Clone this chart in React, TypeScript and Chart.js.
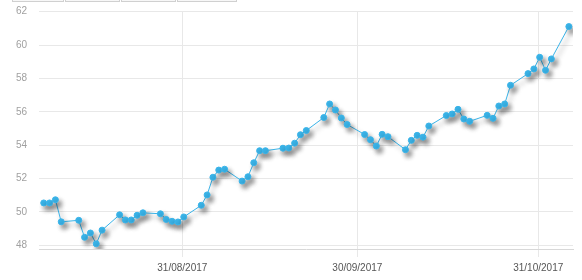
import React, { useEffect, useRef } from "react";
import { Chart, registerables } from "chart.js";

Chart.register(...registerables);

// Trading days (Sunday–Thursday market)
const dates: string[] = [
  "2017-08-07", "2017-08-08", "2017-08-09", "2017-08-10",
  "2017-08-13", "2017-08-14", "2017-08-15", "2017-08-16", "2017-08-17",
  "2017-08-20", "2017-08-21", "2017-08-22", "2017-08-23", "2017-08-24",
  "2017-08-27", "2017-08-28", "2017-08-29", "2017-08-30", "2017-08-31",
  "2017-09-03", "2017-09-04", "2017-09-05", "2017-09-06", "2017-09-07",
  "2017-09-10", "2017-09-11", "2017-09-12", "2017-09-13", "2017-09-14",
  "2017-09-17", "2017-09-18", "2017-09-19", "2017-09-20", "2017-09-21",
  "2017-09-24", "2017-09-25", "2017-09-26", "2017-09-27", "2017-09-28",
  "2017-10-01", "2017-10-02", "2017-10-03", "2017-10-04", "2017-10-05",
  "2017-10-08", "2017-10-09", "2017-10-10", "2017-10-11", "2017-10-12",
  "2017-10-15", "2017-10-16", "2017-10-17", "2017-10-18", "2017-10-19",
  "2017-10-22", "2017-10-23", "2017-10-24", "2017-10-25", "2017-10-26",
  "2017-10-29", "2017-10-30", "2017-10-31", "2017-11-01", "2017-11-02",
  "2017-11-05",
];

const prices: number[] = [
  50.54, 50.54, 50.73, 49.41,
  49.5, 48.48, 48.74, 48.09, 48.91,
  49.83, 49.52, 49.52, 49.8, 49.95,
  49.89, 49.55, 49.44, 49.4, 49.7,
  50.4, 51.02, 52.08, 52.51, 52.56,
  51.85, 52.11, 52.95, 53.67, 53.67,
  53.82, 53.83, 54.12, 54.63, 54.88,
  55.66, 56.47, 56.11, 55.63, 55.24,
  54.64, 54.33, 53.95, 54.65, 54.51,
  53.73, 54.29, 54.59, 54.48, 55.15,
  55.78, 55.87, 56.15, 55.57, 55.43,
  55.79, 55.61, 56.35, 56.47, 57.59,
  58.29, 58.57, 59.27, 58.49, 59.17,
  61.11,
];

const tickDates: string[] = ["2017-08-31", "2017-09-30", "2017-10-31"];
const tickLabels: string[] = ["31/08/2017", "30/09/2017", "31/10/2017"];
const yTickValues: number[] = [48, 50, 52, 54, 56, 58, 60, 62];

const DAY_MS = 86400000;
const ORIGIN = Date.UTC(2017, 7, 1);
const toDay = (s: string) => (Date.parse(s + "T00:00:00Z") - ORIGIN) / DAY_MS;
const POINT_OFFSET = 0.25; // points are stamped a few hours after midnight

const buttonBoxes = [
  { left: 12, width: 52 },
  { left: 65, width: 55 },
  { left: 121, width: 55 },
  { left: 177, width: 60 },
];

export default function App() {
  const ref = useRef<HTMLCanvasElement | null>(null);

  useEffect(() => {
    if (!ref.current) return;
    const blue = "#3ab4e9";
    const points = dates.map((d, i) => ({ x: toDay(d) + POINT_OFFSET, y: prices[i] }));
    const tickMap: Record<number, string> = {};
    tickDates.forEach((d, i) => (tickMap[toDay(d)] = tickLabels[i]));

    const shadowPlugin = {
      id: "pointShadow",
      beforeDatasetsDraw(chart: any) {
        const c = chart.ctx;
        c.save();
        c.shadowColor = "rgba(0,0,0,0.45)";
        c.shadowBlur = 5;
        c.shadowOffsetX = 3;
        c.shadowOffsetY = 4;
      },
      afterDatasetsDraw(chart: any) {
        chart.ctx.restore();
      },
    };

    const chart = new Chart(ref.current, {
      type: "line",
      data: {
        datasets: [
          {
            data: points,
            borderColor: blue,
            backgroundColor: blue,
            borderWidth: 1,
            pointRadius: 3,
            pointBorderWidth: 1,
            pointBackgroundColor: blue,
            pointBorderColor: blue,
            tension: 0,
            fill: false,
          },
        ],
      },
      options: {
        responsive: false,
        animation: false,
        layout: { padding: { left: 0, right: 9, top: 11.7, bottom: 0 } },
        plugins: { legend: { display: false }, tooltip: { enabled: false } },
        scales: {
          x: {
            type: "linear",
            min: 5.44,
            max: 96.96,
            afterBuildTicks: (scale: any) => {
              scale.ticks = tickDates.map((d) => ({ value: toDay(d) }));
            },
            afterFit: (scale: any) => {
              scale.height = 31;
            },
            grid: {
              color: "#e8e8e8",
              drawTicks: true,
              tickLength: 8,
              tickColor: "#e8e8e8",
            },
            border: { display: true, color: "#d8d8d8" },
            ticks: {
              padding: 5,
              maxRotation: 0,
              autoSkip: false,
              color: "#555555",
              font: { size: 10, family: "'Liberation Sans', Arial, sans-serif" },
              callback: (v: any) => tickMap[v as number] ?? "",
            },
          },
          y: {
            type: "linear",
            min: 47.78,
            max: 62,
            afterBuildTicks: (scale: any) => {
              scale.ticks = yTickValues.map((v) => ({ value: v }));
            },
            afterFit: (scale: any) => {
              scale.width = 39;
            },
            grid: {
              color: "#e8e8e8",
              drawTicks: true,
              tickLength: 12,
              tickColor: "rgba(0,0,0,0)",
            },
            border: { display: false },
            ticks: {
              padding: 0,
              color: "#a0a0a0",
              font: { size: 10, family: "'Liberation Sans', Arial, sans-serif" },
              callback: (v: any) => String(v),
            },
          },
        },
      },
      plugins: [shadowPlugin],
    } as any);

    return () => chart.destroy();
  }, []);

  return (
    <div
      style={{
        position: "absolute",
        left: 0,
        top: 0,
        width: 582,
        height: 280,
        overflow: "hidden",
        background: "#fff",
      }}
    >
      <canvas ref={ref} width={582} height={280} style={{ display: "block" }} />
      {buttonBoxes.map((b, i) => (
        <div
          key={i}
          style={{
            position: "absolute",
            top: -20,
            left: b.left,
            width: b.width,
            height: 22,
            boxSizing: "border-box",
            border: "1px solid #d0d0d0",
            background: "#f7f7f7",
          }}
        />
      ))}
    </div>
  );
}
